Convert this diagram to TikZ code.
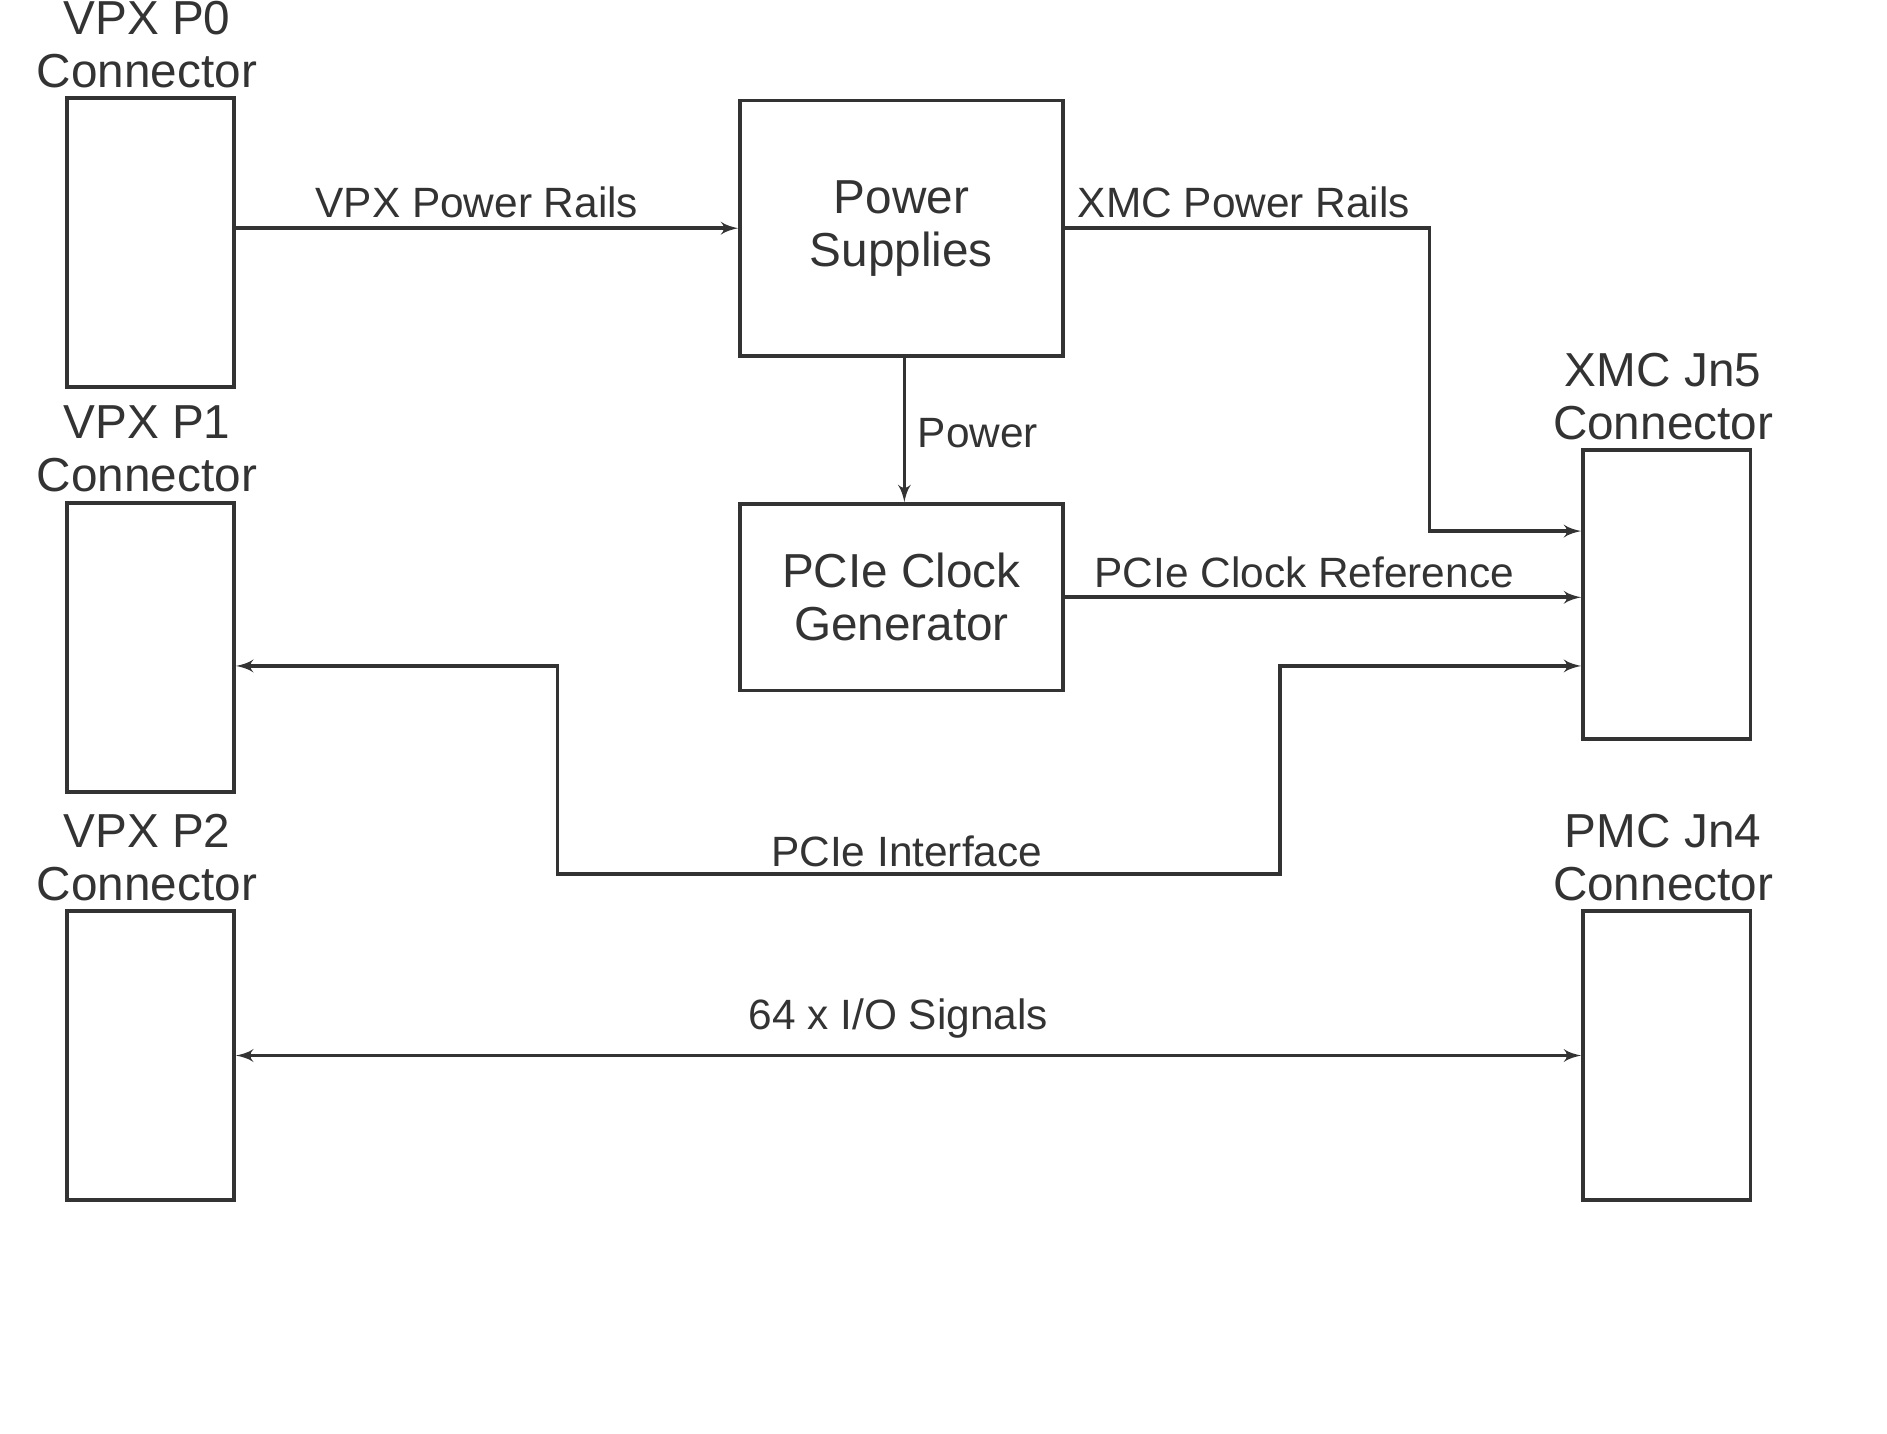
\documentclass[tikz,border=0pt]{standalone}
\usepackage{fontspec}
\setmainfont{Liberation Sans}
\usetikzlibrary{arrows,positioning}
\definecolor{strokecol}{HTML}{333333}
\tikzset{
  box/.style={draw=strokecol,line width=1.5pt,inner sep=0pt,anchor=north west},
  conn/.style={box,minimum width=69.5pt,minimum height=120pt},
  lbl/.style={text=strokecol,font=\fontsize{19.8pt}{22pt}\selectfont,align=center},
  elbl/.style={text=strokecol,font=\fontsize{17.6pt}{20pt}\selectfont},
  wire/.style={draw=strokecol,line width=1.5pt,-latex',line join=miter}
}
\begin{document}
\begin{tikzpicture}[x=0.5pt,y=-0.5pt]
\useasboundingbox (0,0) rectangle (1567,1190);

% Node: VPX connectors
\node [conn] (p0) at (54,80) {};
\node [lbl] at (122,37) {VPX P0\\Connector};
\node [conn] (p1) at (54,416) {};
\node [lbl] at (122,373) {VPX P1\\Connector};
\node [conn] (p2) at (54,755) {};
\node [lbl] at (122,712) {VPX P2\\Connector};

% Node: mezzanine connectors
\node [conn] (jn5) at (1313,372) {};
\node [lbl] at (1381,329) {XMC Jn5\\Connector};
\node [conn] (jn4) at (1313,755) {};
\node [lbl] at (1381,712) {PMC Jn4\\Connector};

% Node: blocks
\node [box,lbl,minimum width=134pt,minimum height=106pt] (ps) at (613,82) {Power\\Supplies};
\node [box,lbl,minimum width=134pt,minimum height=77.5pt] (clk) at (613,417) {PCIe Clock\\Generator};

% Edge: P0 -> Power Supplies
\draw [wire] (p0.east |- ps.west) -- (ps.west);
\node [elbl] at (396,168) {VPX Power Rails};

% Edge: Power Supplies -> Jn5
\coordinate (r1) at (1187,441);
\draw [wire] (ps.east) -| (r1) -- (r1 -| jn5.west);
\node [elbl] at (1033,168) {XMC Power Rails};

% Edge: Power Supplies -> Clock
\draw [wire] (751,294) -- (751,417);
\node [elbl] at (812,360) {Power};

% Edge: Clock -> Jn5
\draw [wire] (clk.east) -- (clk.east -| jn5.west);
\node [elbl] at (1083,475) {PCIe Clock Reference};

% Edge: P1 <-> Jn5
\coordinate (a) at (1063,553);
\coordinate (b) at (463,726);
\draw [wire,latex'-latex'] (p1.east |- 0,553) -| (b) -| (a) -- (a -| jn5.west);
\node [elbl] at (753,707) {PCIe Interface};

% Edge: P2 <-> Jn4
\draw [wire,latex'-latex'] (p2.east) -- (jn4.west);
\node [elbl] at (746,846) {64 x I/O Signals};
\end{tikzpicture}
\end{document}
